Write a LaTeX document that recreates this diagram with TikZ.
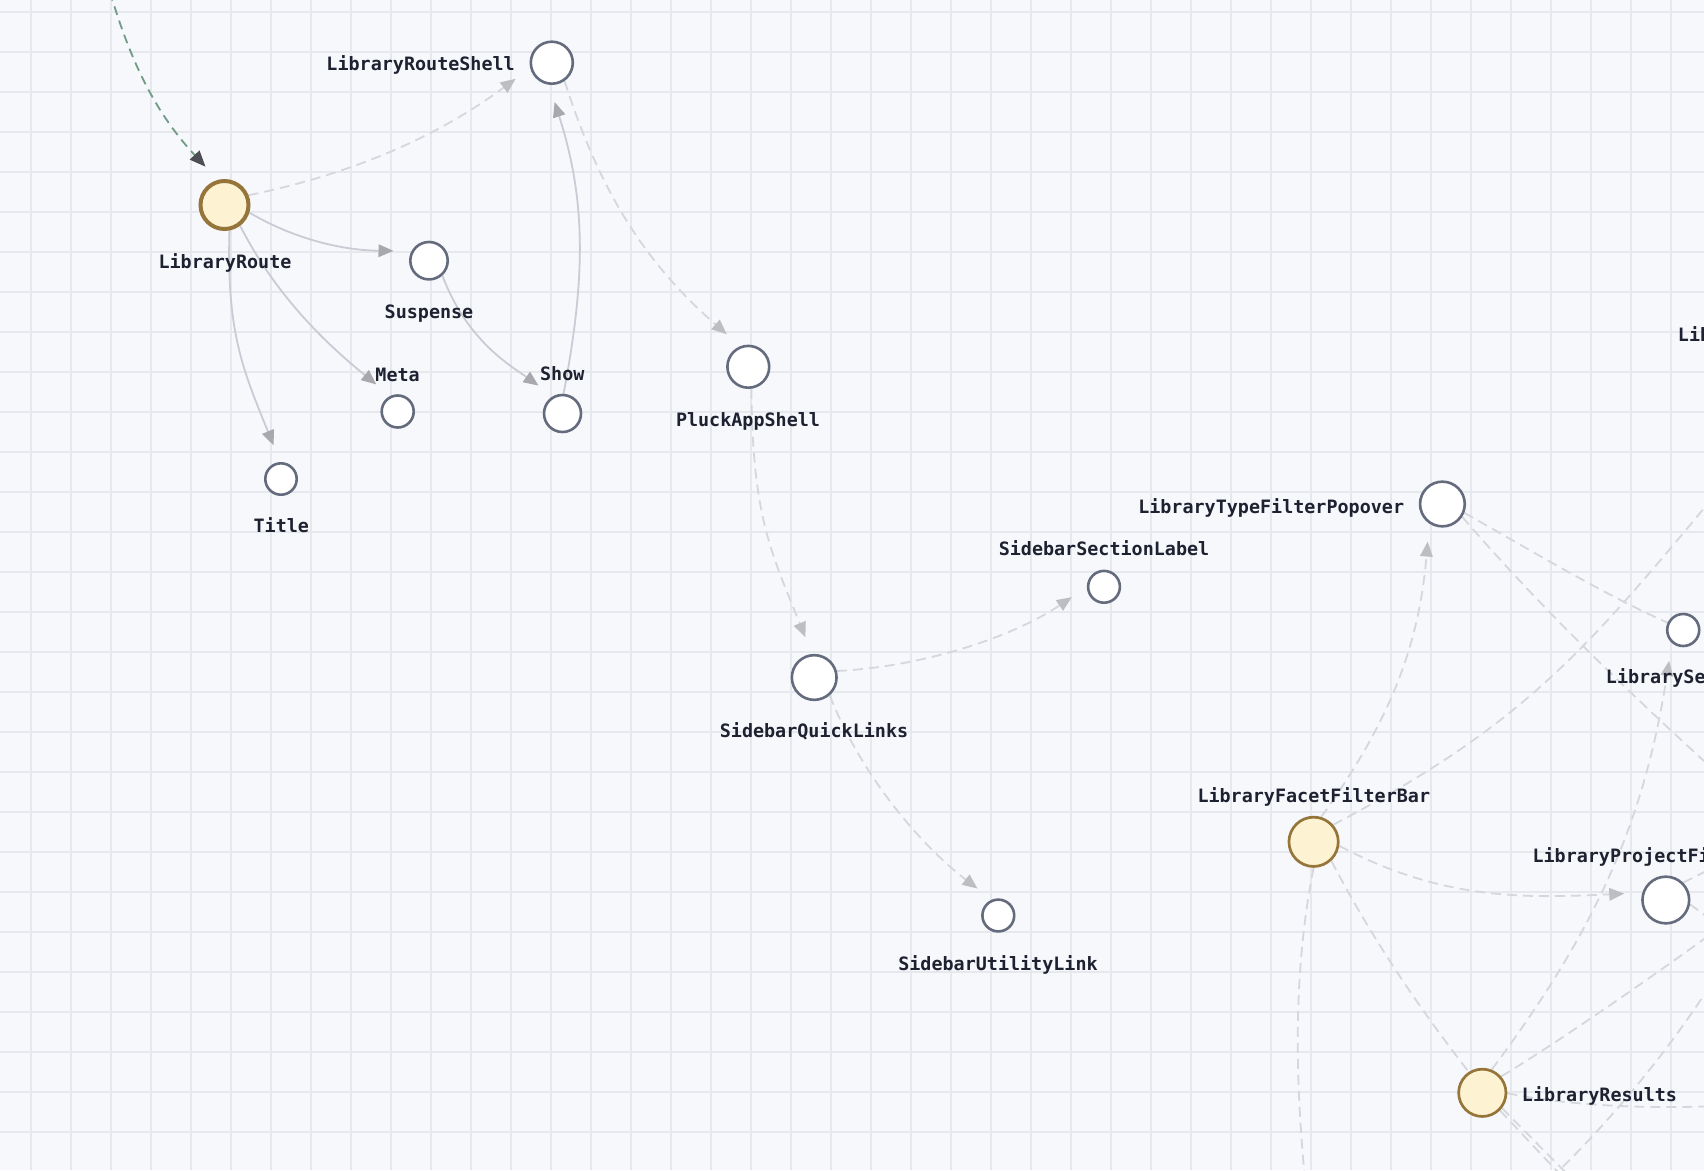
\documentclass[tikz,border=0pt]{standalone}
\usepackage{fontspec}
\usetikzlibrary{arrows.meta}
\newfontfamily\lblfont{DejaVu Sans Mono}
\definecolor{bgc}{HTML}{F7F8FC}
\definecolor{gridc}{HTML}{E6E8EE}
\definecolor{nstroke}{HTML}{646B7D}
\definecolor{yfill}{HTML}{FDF3D3}
\definecolor{ystroke}{HTML}{957539}
\definecolor{textc}{HTML}{1D2130}
\definecolor{solidc}{HTML}{CACBD4}
\definecolor{solidtip}{HTML}{A8A8AE}
\definecolor{dashc}{HTML}{D6D7DD}
\definecolor{dashtip}{HTML}{BEBEC2}
\definecolor{greenc}{HTML}{6F9C83}
\definecolor{greentip}{HTML}{4C4E53}
\newcommand\lblf{\lblfont\bfseries\fontsize{18.4pt}{22pt}\selectfont}
\pgfdeclarelayer{gridlayer}
\pgfdeclarelayer{edgelayer}
\pgfsetlayers{gridlayer,edgelayer,main}
\tikzset{
  gridl/.style={draw=gridc, line width=1.6pt},
  wnode/.style={circle, draw=nstroke, fill=white, line width=2.6pt, inner sep=0pt},
  ynode/.style={circle, draw=ystroke, fill=yfill, line width=2.7pt, inner sep=0pt},
  lbl/.style={inner sep=0pt, text=textc, font=\lblf},
  sedge/.style={draw=solidc, line width=1.8pt, -{Triangle[length=15pt,width=12.5pt,color=solidtip]}, shorten >=18pt},
  dedge/.style={draw=dashc, line width=1.8pt, dash pattern=on 10pt off 6pt},
  darrow/.style={dedge, -{Triangle[length=15pt,width=12.5pt,color=dashtip]}, shorten >=18pt},
  gedge/.style={draw=greenc, line width=1.8pt, dash pattern=on 9pt off 6pt, -{Triangle[length=16pt,width=13pt,color=greentip]}, shorten >=18pt}
}
\begin{document}
\begin{tikzpicture}[x=1pt,y=-1pt]
\useasboundingbox (0,0) rectangle (1704,1170);
\clip (0,0) rectangle (1704,1170);

\begin{pgfonlayer}{gridlayer}
\clip (0,0) rectangle (1704,1170);
\fill[bgc] (0,0) rectangle (1704,1170);
\foreach \gx in {31,71,...,1711} {\draw[gridl] (\gx,0) -- (\gx,1170);}
\foreach \gy in {12,52,...,1172} {\draw[gridl] (0,\gy) -- (1704,\gy);}
\end{pgfonlayer}

% nodes
\node[ynode, line width=4pt, minimum size=48pt] (LR) at (224.5,205) {};
\node[wnode, minimum size=42pt] (LRS) at (551.8,62.7) {};
\node[wnode, minimum size=37.4pt] (Susp) at (429,260.7) {};
\node[wnode, minimum size=32pt] (Meta) at (397.7,411.5) {};
\node[wnode, minimum size=37pt] (Show) at (562.5,413.5) {};
\node[wnode, minimum size=31.4pt] (Title) at (281,479) {};
\node[wnode, minimum size=41.8pt] (Pluck) at (748.3,366.8) {};
\node[wnode, minimum size=31.8pt] (SL) at (1104,586.8) {};
\node[wnode, minimum size=44.7pt] (QL) at (814.2,677.5) {};
\node[wnode, minimum size=31.8pt] (UL) at (998.3,915.5) {};
\node[wnode, minimum size=44.7pt] (TF) at (1442.4,504) {};
\node[wnode, minimum size=32pt] (LSe) at (1683.2,630) {};
\node[ynode, minimum size=49.3pt] (Facet) at (1313.6,841.8) {};
\node[wnode, minimum size=46.7pt] (PF) at (1665.8,900) {};
\node[ynode, minimum size=47.3pt] (LRes) at (1482.3,1092.8) {};

% free ends off the canvas
\coordinate (g0) at (110,-8);
\coordinate (f1) at (1730,477);
\coordinate (f2) at (1306,1190);
\coordinate (f3) at (1760,812);
\coordinate (f4) at (1760,898);
\coordinate (f5) at (1790,1100);
\coordinate (f6) at (1528,1200);
\coordinate (f7) at (1735,945);
\coordinate (f8) at (1590,1197);
\coordinate (f9) at (1585,1201);
\coordinate (f10) at (1740,854);
\coordinate (f11) at (1730,934);

% edges, drawn behind the nodes
\begin{pgfonlayer}{edgelayer}
\clip (0,0) rectangle (1704,1170);
\draw[gedge] (g0) .. controls (127.2,49.5) and (149.8,106.9) .. (LR.105);
\draw[darrow] (LR.22) .. controls (358,172.6) and (440,134.5) .. (LRS.194);
\draw[sedge] (LR.-17) .. controls (301,243) and (351,250.5) .. (Susp.151);
\draw[sedge] (LR.-53) .. controls (277,298) and (329,346) .. (Meta.115);
\draw[sedge] (LR.-79) .. controls (226.5,331.7) and (242.4,368.8) .. (Title.92);
\draw[sedge] (Susp.-48) .. controls (467,341) and (511,366) .. (Show.118);
\draw[sedge] (Show.87) .. controls (586,276) and (586,200) .. (LRS.-97);
\draw[darrow] (LRS.-55) .. controls (601,196) and (648.5,266) .. (Pluck.111);
\draw[darrow] (Pluck.-82) .. controls (752.5,515) and (770,550) .. (QL.95);
\draw[darrow] (QL.16) .. controls (926,666.5) and (1014,636) .. (SL.181);
\draw[darrow] (QL.-49) .. controls (861.7,777) and (922.3,846.5) .. (UL.112);
\draw[darrow] (Facet.73) .. controls (1390.5,720.7) and (1419,645) .. (TF.-124);
\draw[darrow] (Facet.-9.5) .. controls (1443,900.8) and (1526.5,898.2) .. (PF.163);
\draw[dedge] (Facet.41) .. controls (1530,721.4) and (1589,646.4) .. (f1);
\draw[dedge] (Facet.-90) .. controls (1292.3,975) and (1295.3,1083) .. (f2);
\draw[dedge] (Facet.-47) .. controls (1370,935) and (1416.4,1004.4) .. (LRes.123.5);
\draw[dedge] (TF.-22) .. controls (1526.6,547.8) and (1601.7,593.4) .. (LSe.155);
\draw[dedge] (TF.-33) .. controls (1554.4,623.9) and (1657.1,718.9) .. (f3);
\draw[darrow] (LRes.68) .. controls (1597.3,928.3) and (1644.8,818.8) .. (LSe.-131);
\draw[dedge] (LRes.41) .. controls (1569.3,1035.6) and (1696,946) .. (f4);
\draw[dedge] (LRes.-1) .. controls (1580,1108) and (1690,1112) .. (f5);
\draw[dedge] (f6) .. controls (1605,1130) and (1680,1040) .. (f7);
\draw[dedge] (LRes.-38) -- (f8);
\draw[dedge] (LRes.-45) -- (f9);
\draw[dedge] (PF.45) -- (f10);
\draw[dedge] (PF.-10) -- (f11);
\end{pgfonlayer}

% labels
\node[lbl, anchor=base] (tLR) at (225,268) {LibraryRoute};
\node[lbl, anchor=base east] (tLRS) at (515,70.5) {LibraryRouteShell};
\node[lbl, anchor=base] (tSusp) at (429,318) {Suspense};
\node[lbl, anchor=base] (tMeta) at (397.6,381) {Meta};
\node[lbl, anchor=base] (tShow) at (562.3,380) {Show};
\node[lbl, anchor=base] (tTitle) at (281.3,532.5) {Title};
\node[lbl, anchor=base] (tPluck) at (748,426) {PluckAppShell};
\node[lbl, anchor=base] (tSL) at (1104,555.5) {SidebarSectionLabel};
\node[lbl, anchor=base] (tQL) at (814,737.5) {SidebarQuickLinks};
\node[lbl, anchor=base] (tUL) at (998,970) {SidebarUtilityLink};
\node[lbl, anchor=base east] (tTF) at (1404.3,513) {LibraryTypeFilterPopover};
\node[lbl, anchor=base] (tFacet) at (1313.8,802) {LibraryFacetFilterBar};
\node[lbl, anchor=base west] (tPF) at (1532.3,862.5) {LibraryProjectFi};
\node[lbl, anchor=base west] (tLRes) at (1521.7,1101.7) {LibraryResults};
\node[lbl, anchor=base west] (tLSe) at (1605.7,683.5) {LibrarySe};
\node[lbl, anchor=base west] (tLib) at (1677.7,341.7) {Lib};
\end{tikzpicture}
\end{document}
